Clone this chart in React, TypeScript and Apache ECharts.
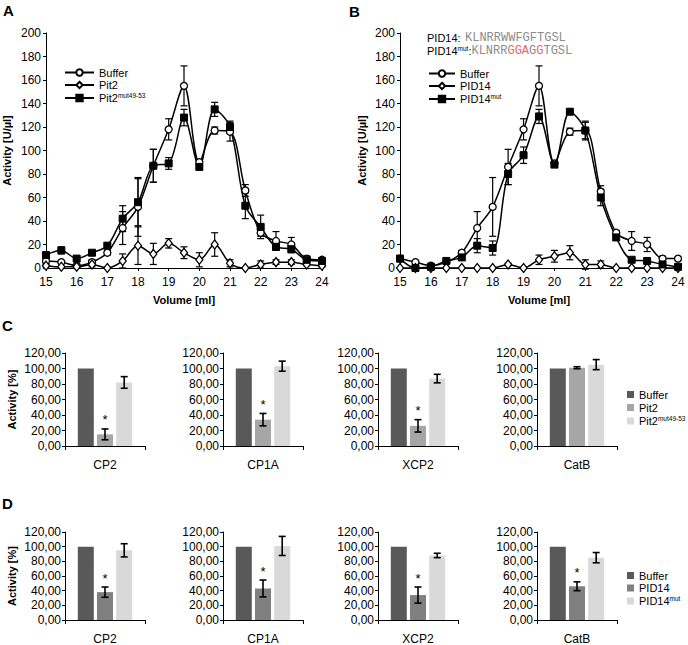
import React, { useEffect, useRef } from 'react';
import * as echarts from 'echarts';

const FONT = '"Liberation Sans", Arial, Helvetica, sans-serif';
const MONO = '"Liberation Mono", "Courier New", monospace';

// ---- Panels A & B: activity profiles over elution volume ----
const volumes = [15, 15.5, 16, 16.5, 17, 17.5, 18, 18.5, 19, 19.5, 20, 20.5, 21, 21.5, 22, 22.5, 23, 23.5, 24];

const aBuffer = [6, 5, 2, 5, 13, 34, 52, 87, 118, 155, 90, 117, 116, 66, 30, 23, 20, 8, 7];
const aBufferErr = [2, 1, 1, 2, 2, 14, 25, 14, 9, 17, 2, 3, 8, 5, 3, 8, 6, 2, 1];
const aPit2 = [2, 1, 1, 3, 0, 6, 19, 12, 21, 13, 7, 20, 4, 0, 3, 5, 5, 3, 2];
const aPit2Err = [1, 0, 0, 2, 0, 6, 16, 9, 4, 5, 6, 10, 3, 0, 3, 2, 2, 1, 1];
const aPit2Mut = [11, 15, 8, 13, 19, 42, 56, 87, 89, 128, 86, 135, 120, 53, 35, 18, 16, 7, 6];
const aPit2MutErr = [2, 3, 1, 1, 2, 11, 20, 14, 5, 7, 2, 6, 5, 11, 10, 2, 3, 3, 1];

const bBuffer = [8, 5, 2, 5, 13, 34, 52, 86, 118, 155, 89, 116, 117, 65, 30, 23, 20, 8, 8];
const bBufferErr = [1, 1, 1, 1, 2, 14, 25, 15, 9, 17, 2, 3, 7, 5, 2, 8, 6, 2, 1];
const bPID14 = [0, 0, 0, 0, 0, 0, 0, 3, 0, 7, 10, 13, 3, 3, 0, 0, 0, 0, 0];
const bPID14Err = [0, 0, 0, 0, 0, 0, 0, 1, 0, 4, 5, 6, 4, 3, 0, 0, 0, 0, 0];
const bPID14Mut = [8, 0, 1, 6, 9, 19, 17, 80, 96, 129, 88, 133, 117, 60, 26, 7, 6, 3, 1];
const bPID14MutErr = [1, 0, 1, 1, 1, 6, 6, 9, 7, 6, 2, 1, 8, 7, 2, 1, 1, 1, 1];

// ---- Panels C & D: relative activity per enzyme ----
const enzymes = ['CP2', 'CP1A', 'XCP2', 'CatB'];

const cBuffer = [100, 100, 100, 100];
const cPit2 = [15, 34, 26, 101];
const cPit2Err = [7, 8, 8, 1.3];
const cPit2Sig = [1, 1, 1, 0];
const cPit2Mut = [82, 103, 87, 105];
const cPit2MutErr = [7.5, 6.5, 5.5, 6.5];

const dBuffer = [100, 100, 100, 100];
const dPID14 = [38, 43, 34, 46];
const dPID14Err = [7, 11.5, 11, 6];
const dPID14Sig = [1, 1, 1, 1];
const dPID14Mut = [95, 101, 88, 85];
const dPID14MutErr = [9, 13, 3, 7];

const LABELS: Record<string, string> = {
  'A-Buffer': 'Buffer',
  'A-Pit2': 'Pit2',
  'A-Pit2mut': 'Pit2{sup|mut49-53}',
  'B-Buffer': 'Buffer',
  'B-PID14': 'PID14',
  'B-PID14mut': 'PID14{sup|mut}',
  'C-Buffer': 'Buffer',
  'C-Pit2': 'Pit2',
  'C-Pit2mut': 'Pit2{sup|mut49-53}',
  'D-Buffer': 'Buffer',
  'D-PID14': 'PID14',
  'D-PID14mut': 'PID14{sup|mut}',
};

const BAR_W = 16;
const BAR_GAP = 0.2;

function lineErr(params: any, api: any) {
  const x = api.value(0);
  const y = api.value(1);
  const e = api.value(2);
  if (!e) return { type: 'group', children: [] };
  const top = api.coord([x, y + e]);
  const bot = api.coord([x, y - e]);
  const w = 3.5;
  const st = { stroke: '#000', lineWidth: 1.2 };
  return {
    type: 'group',
    children: [
      { type: 'line', shape: { x1: top[0], y1: top[1], x2: bot[0], y2: bot[1] }, style: st },
      { type: 'line', shape: { x1: top[0] - w, y1: top[1], x2: top[0] + w, y2: top[1] }, style: st },
      { type: 'line', shape: { x1: bot[0] - w, y1: bot[1], x2: bot[0] + w, y2: bot[1] }, style: st },
    ],
  };
}

function barErr(params: any, api: any) {
  const v = api.value(1);
  const e = api.value(2);
  const slot = api.value(3);
  const sig = api.value(4);
  const c = api.coord([api.value(0), v]);
  const x = c[0] + slot * BAR_W * (1 + BAR_GAP);
  const children: any[] = [];
  const top = api.coord([api.value(0), v + e]);
  const bot = api.coord([api.value(0), v - e]);
  const st = { stroke: '#000', lineWidth: 1.6 };
  const w = 3.5;
  if (e) {
    children.push(
      { type: 'line', shape: { x1: x, y1: top[1], x2: x, y2: bot[1] }, style: st },
      { type: 'line', shape: { x1: x - w, y1: top[1], x2: x + w, y2: top[1] }, style: st },
      { type: 'line', shape: { x1: x - w, y1: bot[1], x2: x + w, y2: bot[1] }, style: st },
    );
  }
  if (sig) {
    children.push({
      type: 'text',
      x,
      y: top[1] - 9,
      style: { text: '*', fontSize: 13, fontFamily: FONT, fill: '#000', align: 'center', verticalAlign: 'middle' },
    });
  }
  return { type: 'group', children };
}

const axisLine = { show: true, lineStyle: { color: '#000', width: 1 } };
const axisTick = { show: true, length: 3, lineStyle: { color: '#000', width: 1 } };
const tickLabel = { color: '#000', fontSize: 12, fontFamily: FONT };
const titleStyle = { color: '#000', fontSize: 11, fontWeight: 'bold' as const, fontFamily: FONT };
const richSup = {
  sup: { fontSize: 6.5, fontFamily: FONT, color: '#000', verticalAlign: 'top' as const, padding: [0, 0, 5, 0] },
};

function buildOption() {
  const grid: any[] = [
    { left: 44, top: 33, width: 278, height: 235 },
    { left: 400, top: 33, width: 278, height: 235 },
  ];
  const barLefts = [65, 223, 378, 537];
  barLefts.forEach((l) => grid.push({ left: l, top: 353, width: 80, height: 93 }));
  barLefts.forEach((l) => grid.push({ left: l, top: 532, width: 80, height: 93 }));

  const xAxis: any[] = [];
  const yAxis: any[] = [];
  [0, 1].forEach((g) => {
    xAxis.push({
      type: 'value', gridIndex: g, min: 15, max: 24, interval: 1,
      axisLine, axisTick, splitLine: { show: false },
      axisLabel: { ...tickLabel, margin: 8 },
      name: 'Volume [ml]', nameLocation: 'middle', nameGap: 26, nameTextStyle: titleStyle,
    });
    yAxis.push({
      type: 'value', gridIndex: g, min: 0, max: 200, interval: 20,
      axisLine, axisTick, splitLine: { show: false },
      axisLabel: { ...tickLabel, margin: 5 },
      name: 'Activity [U/µl]', nameLocation: 'middle', nameGap: g === 0 ? 34 : 33, nameTextStyle: titleStyle,
    });
  });
  for (let r = 0; r < 2; r++) {
    for (let i = 0; i < 4; i++) {
      const g = 2 + r * 4 + i;
      xAxis.push({
        type: 'category', gridIndex: g, data: [enzymes[i]],
        axisLine, axisTick: { ...axisTick, length: 4 },
        axisLabel: { ...tickLabel, margin: 13 },
      });
      yAxis.push({
        type: 'value', gridIndex: g, min: 0, max: 120, interval: 20,
        axisLine, axisTick, splitLine: { show: false },
        axisLabel: { ...tickLabel, margin: 4, formatter: (v: number) => v.toFixed(2).replace('.', ',') },
        name: i === 0 ? 'Activity [%]' : '', nameLocation: 'middle', nameGap: 48, nameTextStyle: titleStyle,
      });
    }
  }

  const series: any[] = [];
  const lineSeries = (name: string, g: number, vals: number[], errs: number[], kind: string) => {
    const style =
      kind === 'circle'
        ? { symbol: 'circle', symbolSize: 7, itemStyle: { color: '#fff', borderColor: '#000', borderWidth: 1.3 } }
        : kind === 'diamond'
        ? { symbol: 'diamond', symbolSize: [7, 9], itemStyle: { color: '#fff', borderColor: '#000', borderWidth: 1.3 } }
        : { symbol: 'rect', symbolSize: 7, itemStyle: { color: '#000', borderColor: '#000', borderWidth: 1 } };
    series.push({
      type: 'custom', xAxisIndex: g, yAxisIndex: g, z: 1, silent: true,
      data: volumes.map((v, i) => [v, vals[i], errs[i]]),
      renderItem: lineErr,
    });
    series.push({
      type: 'line', name, xAxisIndex: g, yAxisIndex: g, z: 3,
      data: volumes.map((v, i) => [v, vals[i]]),
      smooth: 0.33,
      lineStyle: { color: '#000', width: 1.5 },
      showAllSymbol: true,
      ...style,
    });
  };
  lineSeries('A-Buffer', 0, aBuffer, aBufferErr, 'circle');
  lineSeries('A-Pit2', 0, aPit2, aPit2Err, 'diamond');
  lineSeries('A-Pit2mut', 0, aPit2Mut, aPit2MutErr, 'square');
  lineSeries('B-Buffer', 1, bBuffer, bBufferErr, 'circle');
  lineSeries('B-PID14', 1, bPID14, bPID14Err, 'diamond');
  lineSeries('B-PID14mut', 1, bPID14Mut, bPID14MutErr, 'square');

  const barPanel = (
    prefix: string, row: number,
    buf: number[], mid: number[], midErr: number[], midSig: number[], mut: number[], mutErr: number[],
    midName: string, mutName: string, midColor: string,
  ) => {
    for (let i = 0; i < 4; i++) {
      const g = 2 + row * 4 + i;
      const common = { type: 'bar', xAxisIndex: g, yAxisIndex: g, barWidth: BAR_W, barGap: '20%' };
      series.push({ ...common, name: prefix + '-Buffer', data: [buf[i]], itemStyle: { color: '#595959' } });
      series.push({ ...common, name: prefix + '-' + midName, data: [mid[i]], itemStyle: { color: midColor } });
      series.push({ ...common, name: prefix + '-' + mutName, data: [mut[i]], itemStyle: { color: '#d9d9d9' } });
      series.push({
        type: 'custom', xAxisIndex: g, yAxisIndex: g, z: 5, silent: true,
        data: [
          [0, buf[i], 0, -1, 0],
          [0, mid[i], midErr[i], 0, midSig[i]],
          [0, mut[i], mutErr[i], 1, 0],
        ],
        renderItem: barErr,
      });
    }
  };
  barPanel('C', 0, cBuffer, cPit2, cPit2Err, cPit2Sig, cPit2Mut, cPit2MutErr, 'Pit2', 'Pit2mut', '#a6a6a6');
  barPanel('D', 1, dBuffer, dPID14, dPID14Err, dPID14Sig, dPID14Mut, dPID14MutErr, 'PID14', 'PID14mut', '#808080');

  const legendBase = {
    orient: 'vertical', selectedMode: false,
    formatter: (n: string) => LABELS[n] || n,
    textStyle: { color: '#000', fontSize: 11, fontFamily: FONT, rich: richSup },
  };
  const legend = [
    { ...legendBase, data: ['A-Buffer', 'A-Pit2', 'A-Pit2mut'], left: 59, top: 62, itemWidth: 29, itemHeight: 8, itemGap: 1.5 },
    { ...legendBase, data: ['B-Buffer', 'B-PID14', 'B-PID14mut'], left: 423, top: 63, itemWidth: 26, itemHeight: 8, itemGap: 1.5 },
    { ...legendBase, data: ['C-Buffer', 'C-Pit2', 'C-Pit2mut'], icon: 'rect', left: 622, top: 384, itemWidth: 7, itemHeight: 7, itemGap: 2 },
    { ...legendBase, data: ['D-Buffer', 'D-PID14', 'D-PID14mut'], icon: 'rect', left: 622, top: 565, itemWidth: 7, itemHeight: 7, itemGap: 1.5 },
  ];

  const letter = (t: string, x: number, y: number) => ({
    type: 'text', x, y,
    style: { text: t, fontSize: 15, fontWeight: 'bold', fontFamily: FONT, fill: '#000', verticalAlign: 'middle' },
  });
  const graphic = [
    letter('A', 3, 10),
    letter('B', 349, 11),
    letter('C', 2, 325),
    letter('D', 2, 503),
    {
      type: 'text', x: 427, y: 38,
      style: { text: 'PID14:', fontSize: 11, fontFamily: FONT, fill: '#000', verticalAlign: 'middle' },
    },
    {
      type: 'text', x: 465, y: 38,
      style: { text: 'KLNRRWWFGFTGSL', fontSize: 12, fontFamily: MONO, fill: '#8c8c8c', verticalAlign: 'middle' },
    },
    {
      type: 'text', x: 427, y: 51,
      style: {
        text: '{a|PID14}{s|mut}{a|:}{m|KLNRR}{r|GGA}{m|G}{r|G}{m|TGSL}',
        verticalAlign: 'middle',
        rich: {
          a: { fontSize: 11, fontFamily: FONT, fill: '#000' },
          s: { fontSize: 6.5, fontFamily: FONT, fill: '#000', verticalAlign: 'top' },
          m: { fontSize: 12, fontFamily: MONO, fill: '#8c8c8c' },
          r: { fontSize: 12, fontFamily: MONO, fill: '#e8686a' },
        },
      },
    },
  ];

  return { animation: false, backgroundColor: '#fff', grid, xAxis, yAxis, series, legend, graphic };
}

export default function App() {
  const ref = useRef<HTMLDivElement>(null);
  useEffect(() => {
    if (!ref.current) return;
    const chart = echarts.init(ref.current, undefined, { renderer: 'svg' });
    chart.setOption(buildOption() as any);
    return () => chart.dispose();
  }, []);
  return (
    <div
      ref={ref}
      style={{ position: 'fixed', left: 0, top: 0, width: 688, height: 645, background: '#fff' }}
    />
  );
}
